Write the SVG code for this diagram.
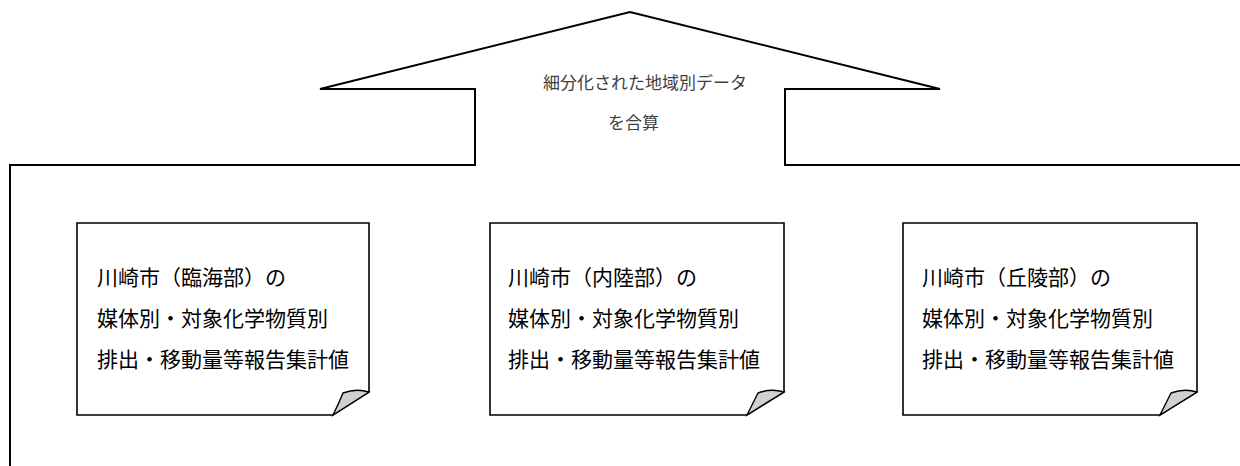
<svg xmlns="http://www.w3.org/2000/svg" width="1240" height="466" viewBox="0 0 1240 466">
<style>
.frame{fill:none;stroke:#000;stroke-width:2;stroke-linejoin:miter}
.note{fill:#fff;stroke:#000;stroke-width:1.6;stroke-linejoin:miter}
.curl{fill:#d0d0d0;stroke:#000;stroke-width:1.4;stroke-linejoin:miter}
.t{font-family:"Noto Sans CJK JP","Noto Sans CJK SC",sans-serif;font-size:21px;fill:#000}
.h{font-family:"Noto Sans CJK JP","Noto Sans CJK SC",sans-serif;font-size:17px;fill:#404040}
</style>
<rect width="1240" height="466" fill="#fff"/>
<g id="connectors">
<path class="frame" d="M10,466 V165 H475 V89 H320 L630,12 L940,89 H785 V165 H1240"/>
</g>
<g id="label-sum">
<text class="h" x="543" y="89">細分化された地域別データ</text>
<text class="h" x="608" y="129">を合算</text>
</g>
<g id="node-rinkai">
<path class="note" d="M77,223 H369 V392 L333,415 H77 Z"/>
<path class="curl" d="M333,415 L369,392 Q356,388 343,393 Q339,403 333,415 Z"/>
<text class="t" x="97" y="285">川崎市（臨海部）の</text>
<text class="t" x="97" y="326">媒体別・対象化学物質別</text>
<text class="t" x="97" y="367">排出・移動量等報告集計値</text>
</g>
<g id="node-nairiku">
<path class="note" d="M490,223 H784 V392 L747,415 H490 Z"/>
<path class="curl" d="M747,415 L784,392 Q771,388 758,393 Q753,403 747,415 Z"/>
<text class="t" x="508" y="285">川崎市（内陸部）の</text>
<text class="t" x="508" y="326">媒体別・対象化学物質別</text>
<text class="t" x="508" y="367">排出・移動量等報告集計値</text>
</g>
<g id="node-kyuryo">
<path class="note" d="M903,223 H1197 V392 L1160,415 H903 Z"/>
<path class="curl" d="M1160,415 L1197,392 Q1184,388 1171,393 Q1166,403 1160,415 Z"/>
<text class="t" x="922" y="285">川崎市（丘陵部）の</text>
<text class="t" x="922" y="326">媒体別・対象化学物質別</text>
<text class="t" x="922" y="367">排出・移動量等報告集計値</text>
</g>
</svg>
